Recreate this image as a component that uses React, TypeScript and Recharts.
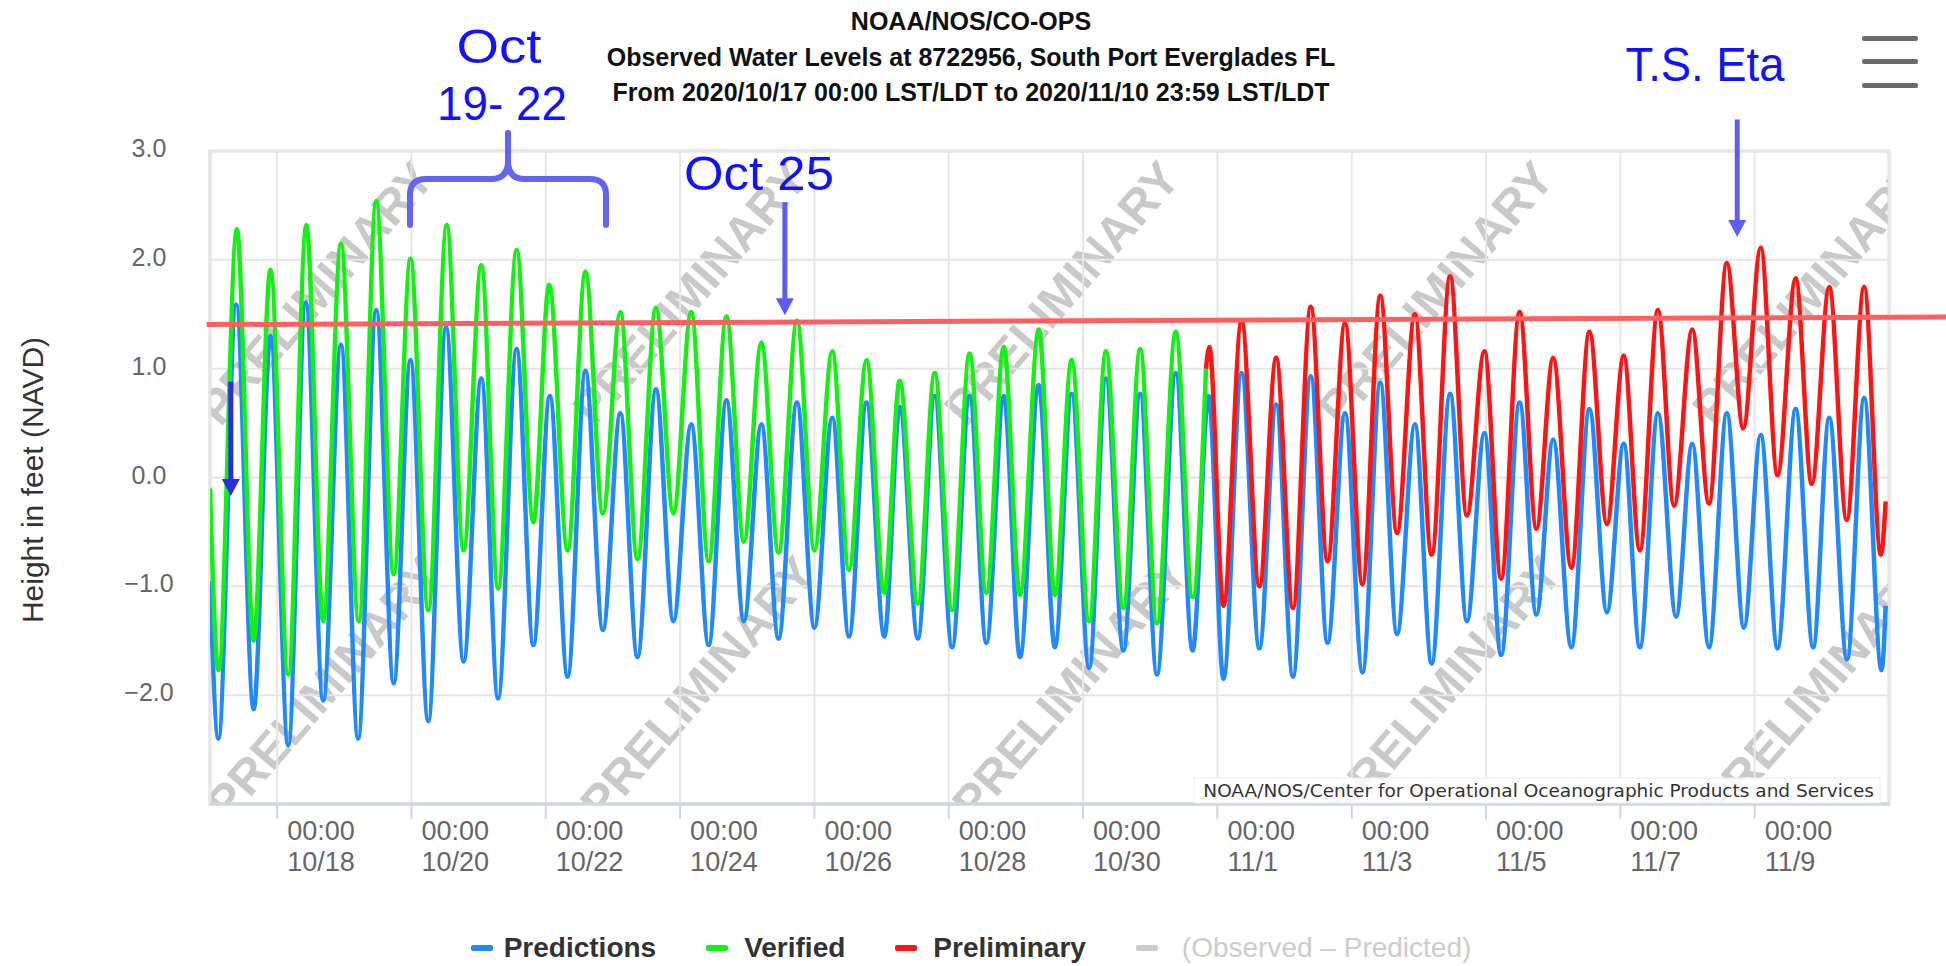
import React from "react";
import {
  LineChart,
  Line,
  XAxis,
  YAxis,
  CartesianGrid,
  ReferenceLine,
  ReferenceDot,
} from "recharts";

// x = days after 2020/10/17 00:00 LST/LDT, y = height in feet (NAVD)
// each list holds the start/end and the high/low turning points
const predictionDays = [
  0, 0.125, 0.39, 0.65, 0.9, 1.165, 1.425, 1.685, 1.95, 2.205, 2.475, 2.735, 2.985,
  3.25, 3.515, 3.775, 4.04, 4.29, 4.565, 4.815, 5.06, 5.325, 5.59, 5.85, 6.11, 6.365,
  6.64, 6.9, 7.165, 7.425, 7.69, 7.95, 8.21, 8.465, 8.74, 9.0, 9.265, 9.515, 9.775,
  10.04, 10.27, 10.54, 10.79, 11.05, 11.31, 11.56, 11.82, 12.06, 12.34, 12.58, 12.83,
  13.09, 13.34, 13.6, 13.85, 14.1, 14.38, 14.63, 14.87, 15.09, 15.36, 15.625, 15.875,
  16.125, 16.39, 16.64, 16.9, 17.16, 17.425, 17.675, 17.94, 18.19, 18.465, 18.715,
  18.975, 19.225, 19.5, 19.75, 20.0, 20.27, 20.54, 20.8, 21.05, 21.29, 21.56, 21.83,
  22.07, 22.32, 22.585, 22.84, 23.09, 23.34, 23.61, 23.87, 24.11, 24.375, 24.63,
  24.89, 24.95,
];
const predictionFeet = [
  -0.95, -2.4, 1.59, -2.13, 1.3, -2.46, 1.61, -2.05, 1.22, -2.4, 1.54, -1.89, 1.08,
  -2.24, 1.38, -1.69, 0.91, -2.03, 1.18, -1.54, 0.75, -1.83, 0.98, -1.4, 0.59, -1.65,
  0.81, -1.32, 0.49, -1.54, 0.71, -1.32, 0.49, -1.48, 0.69, -1.38, 0.55, -1.46, 0.69,
  -1.46, 0.65, -1.48, 0.75, -1.56, 0.75, -1.52, 0.75, -1.65, 0.85, -1.56, 0.77,
  -1.75, 0.91, -1.59, 0.77, -1.81, 0.96, -1.59, 0.75, -1.85, 0.96, -1.57, 0.67,
  -1.83, 0.93, -1.52, 0.59, -1.79, 0.87, -1.44, 0.49, -1.71, 0.77, -1.32,
  0.41, -1.63, 0.69, -1.26, 0.35, -1.56, 0.63, -1.24, 0.31, -1.56, 0.59, -1.28,
  0.31, -1.56, 0.59, -1.38, 0.39, -1.57, 0.63, -1.56, 0.55, -1.67, 0.73,
  -1.77, -1.18,
];

const verifiedDays = [
  0, 0.125, 0.4, 0.65, 0.9, 1.165, 1.435, 1.685, 1.95, 2.215, 2.475, 2.735, 2.985,
  3.25, 3.525, 3.775, 4.04, 4.29, 4.565, 4.815, 5.05, 5.325, 5.59, 5.85, 6.11, 6.365,
  6.64, 6.9, 7.165, 7.425, 7.69, 7.95, 8.21, 8.465, 8.74, 9.0, 9.265, 9.515, 9.775,
  10.04, 10.27, 10.54, 10.79, 11.05, 11.31, 11.56, 11.82, 12.06, 12.34, 12.58, 12.83,
  13.09, 13.34, 13.6, 13.85, 14.1, 14.38, 14.63, 14.83,
];
const verifiedFeet = [
  -0.1, -1.77, 2.28, -1.5, 1.91, -1.81, 2.32, -1.32, 2.15, -1.32, 2.54, -0.89, 2.01,
  -1.22, 2.32, -0.67, 1.95, -1.02, 2.09, -0.41, 1.77, -0.67, 1.89, -0.33, 1.52, -0.75,
  1.56, -0.33, 1.52, -0.77, 1.48, -0.59, 1.24, -0.69, 1.44, -0.67, 1.16, -0.85, 1.08,
  -1.06, 0.89, -1.16, 0.96, -1.22, 1.14, -1.06, 1.2, -1.08, 1.36, -1.08, 1.08,
  -1.32, 1.16, -1.2, 1.18, -1.34, 1.34, -1.1, 1.0,
];

const preliminaryDays = [
  14.83, 14.88, 15.09, 15.36, 15.625, 15.875, 16.125, 16.39, 16.64, 16.9, 17.16,
  17.425, 17.675, 17.94, 18.19, 18.465, 18.715, 18.975, 19.225, 19.5, 19.75, 20.0,
  20.27, 20.54, 20.8, 21.05, 21.29, 21.56, 21.8, 22.07, 22.32, 22.585, 22.83, 23.09,
  23.34, 23.61, 23.85, 24.11, 24.37, 24.63, 24.88, 24.95,
];
const preliminaryFeet = [
  1.0, 1.2, -1.18, 1.44, -1.0, 1.1, -1.2, 1.57, -0.77, 1.42, -0.98,
  1.67, -0.51, 1.5, -0.71, 1.85, -0.35, 1.16, -0.93, 1.52, -0.47, 1.1,
  -0.83, 1.34, -0.43, 1.12, -0.67, 1.54, -0.26, 1.36, -0.24, 1.97, 0.45, 2.11,
  0.02, 1.83, -0.06, 1.75, -0.39, 1.75, -0.71, -0.22,
];

const tickDays = [1, 3, 5, 7, 9, 11, 13, 15, 17, 19, 21, 23];
const tickDates = [
  "10/18", "10/20", "10/22", "10/24", "10/26", "10/28",
  "10/30", "11/1", "11/3", "11/5", "11/7", "11/9",
];
const heightTicks = [-3, -2, -1, 0, 1, 2, 3];

const titleLines = [
  "NOAA/NOS/CO-OPS",
  "Observed Water Levels at 8722956, South Port Everglades FL",
  "From 2020/10/17 00:00 LST/LDT to 2020/11/10 23:59 LST/LDT",
];

// hand-drawn notes laid over the chart
const floodLevel = [
  { x: -0.05, y: 1.405 },
  { x: 25.85, y: 1.475 },
];
const arrowDays = [0.31, 8.56, 22.74];
const arrowTops = [0.88, 2.53, 3.29];
const arrowTips = [-0.17, 1.49, 2.21];

const W = 1946;
const H = 966;
const PLOT_LEFT = 210;
const PLOT_TOP = 151;
const PLOT_RIGHT = 1889;
const PLOT_BOTTOM = 804;

const BLUE = "#2189f8";
const GREEN = "#14f014";
const RED = "#ff1414";
const NOTE = "#1212ff";
const ARROW = "#5d5df4";

const toPoints = (days: number[], feet: number[]) =>
  days.map((d, i) => ({ d, v: feet[i] }));

const predictions = toPoints(predictionDays, predictionFeet);
const verified = toPoints(verifiedDays, verifiedFeet);
const preliminary = toPoints(preliminaryDays, preliminaryFeet);

const fmt = (v: number) => (v < 0 ? "\u2212" : "") + Math.abs(v).toFixed(1);

function DateTick({ x, payload }: any) {
  const i = tickDays.indexOf(payload.value);
  return (
    <g>
      <text x={x + 10} y={PLOT_BOTTOM + 36} fontSize={27} fill="#666">
        00:00
      </text>
      <text x={x + 10} y={PLOT_BOTTOM + 67} fontSize={27} fill="#666">
        {tickDates[i]}
      </text>
    </g>
  );
}

function LeftTick({ y, payload }: any) {
  if (payload.value === -3) return <g />;
  return (
    <text x={149} y={y + 6} fontSize={25} fill="#666" textAnchor="middle">
      {fmt(payload.value)}
    </text>
  );
}

function RightTick({ y, payload }: any) {
  if (payload.value === -3) return <g />;
  return (
    <text x={1940} y={y + 6} fontSize={25} fill="#666" textAnchor="end">
      {fmt(payload.value)}
    </text>
  );
}

const arrowHead = (color: string) => (props: any) => {
  const { cx, cy } = props;
  return (
    <polygon
      points={`${cx - 9},${cy - 17} ${cx + 9},${cy - 17} ${cx},${cy}`}
      fill={color}
    />
  );
};

const wmCols = [316, 690, 1062, 1436, 1810];
const wmRows = [293, 688];

export default function App() {
  const legend = [
    { name: "Predictions", color: BLUE, text: "#333", weight: 700, gap: 11 },
    { name: "Verified", color: GREEN, text: "#333", weight: 700, gap: 16 },
    { name: "Preliminary", color: RED, text: "#333", weight: 700, gap: 16 },
    { name: "(Observed \u2013 Predicted)", color: "#cccccc", text: "#cccccc", weight: 400, gap: 24 },
  ];

  return (
    <div
      style={{
        position: "absolute",
        left: 0,
        top: 0,
        width: W,
        height: H,
        overflow: "hidden",
        background: "#fff",
        fontFamily: "'Liberation Sans', Arial, sans-serif",
      }}
    >
      {/* watermark + plot frame, under the chart */}
      <svg width={W} height={H} style={{ position: "absolute", left: 0, top: 0 }}>
        <defs>
          <clipPath id="plotClip">
            <rect
              x={PLOT_LEFT}
              y={PLOT_TOP}
              width={PLOT_RIGHT - PLOT_LEFT}
              height={PLOT_BOTTOM - PLOT_TOP}
            />
          </clipPath>
        </defs>
        <g clipPath="url(#plotClip)">
          {wmCols.map((cx, i) =>
            wmRows.map((cy, j) => (
              <text
                key={`wm-${i}-${j}`}
                x={cx + j * 8}
                y={cy}
                transform={`rotate(-49 ${cx + j * 8} ${cy})`}
                textAnchor="middle"
                dominantBaseline="central"
                fontSize={48}
                fontWeight={700}
                fill="#c9c9c9"
              >
                PRELIMINARY
              </text>
            ))
          )}
        </g>
        <rect
          x={PLOT_LEFT}
          y={PLOT_TOP}
          width={PLOT_RIGHT - PLOT_LEFT}
          height={PLOT_BOTTOM - PLOT_TOP}
          fill="none"
          stroke="#d6d6d6"
          strokeWidth={3}
        />
      </svg>

      <div style={{ position: "absolute", left: 0, top: 0 }}>
        <LineChart
          width={W}
          height={H}
          margin={{ top: PLOT_TOP, right: 0, bottom: 102, left: 150 }}
        >
          <CartesianGrid stroke="#e6e6e6" strokeWidth={2} />
          <XAxis
            dataKey="d"
            type="number"
            domain={[0, 25]}
            ticks={tickDays}
            allowDataOverflow
            height={60}
            tickSize={15}
            tickMargin={0}
            tickLine={{ stroke: "#ccd6eb", strokeWidth: 2 }}
            axisLine={{ stroke: "#ccd6eb", strokeWidth: 3 }}
            tick={<DateTick />}
            interval={0}
          />
          <YAxis
            type="number"
            domain={[-3, 3]}
            ticks={heightTicks}
            width={60}
            axisLine={false}
            tickLine={false}
            tickSize={0}
            tickMargin={0}
            tick={<LeftTick />}
            interval={0}
          />
          <YAxis
            yAxisId="right"
            orientation="right"
            type="number"
            domain={[-3, 3]}
            ticks={heightTicks}
            width={57}
            axisLine={false}
            tickLine={false}
            tickSize={0}
            tickMargin={0}
            tick={<RightTick />}
            interval={0}
          />
          <Line
            data={predictions}
            dataKey="v"
            name="Predictions"
            type="monotone"
            stroke={BLUE}
            strokeWidth={4.5}
            dot={false}
            isAnimationActive={false}
          />
          <Line
            data={verified}
            dataKey="v"
            name="Verified"
            type="monotone"
            stroke={GREEN}
            strokeWidth={4.5}
            dot={false}
            isAnimationActive={false}
          />
          <Line
            data={preliminary}
            dataKey="v"
            name="Preliminary"
            type="monotone"
            stroke={RED}
            strokeWidth={4.5}
            dot={false}
            isAnimationActive={false}
          />
          <ReferenceLine
            segment={floodLevel}
            stroke="#ff5f5f"
            strokeWidth={5}
            ifOverflow="visible"
          />
          {arrowDays.map((day, i) => (
            <ReferenceLine
              key={`arrow-${i}`}
              segment={[
                { x: day, y: arrowTops[i] },
                { x: day, y: arrowTips[i] + 0.1 },
              ]}
              stroke={i === 0 ? "#2c2ce6" : ARROW}
              strokeWidth={5}
              ifOverflow="visible"
            />
          ))}
          {arrowDays.map((day, i) => (
            <ReferenceDot
              key={`head-${i}`}
              x={day}
              y={arrowTips[i]}
              r={9}
              ifOverflow="visible"
              shape={arrowHead(i === 0 ? "#2c2ce6" : ARROW)}
            />
          ))}
        </LineChart>
      </div>

      {/* notes, axis title and credits above the chart */}
      <svg
        width={W}
        height={H}
        style={{ position: "absolute", left: 0, top: 0, pointerEvents: "none" }}
      >
        <text
          x={32}
          y={480}
          transform="rotate(-90 32 480)"
          textAnchor="middle"
          dominantBaseline="central"
          fontSize={30}
          fill="#333"
        >
          Height in feet (NAVD)
        </text>
        <rect
          x={1194}
          y={778}
          width={686}
          height={25}
          fill="#fff"
          fillOpacity={0.85}
          stroke="#ececec"
        />
        <text
          x={1874}
          y={797}
          textAnchor="end"
          fontFamily="'DejaVu Sans', Verdana, sans-serif"
          fontSize={18.5}
          fill="#333"
        >
          NOAA/NOS/Center for Operational Oceanographic Products and Services
        </text>
        <path
          d="M410,225 L410,195 Q410,179 426,179 L492,179 Q506,179 508,164 L508,133 M508,164 Q510,179 524,179 L590,179 Q606,179 606,195 L606,225"
          fill="none"
          stroke="#6464f2"
          strokeWidth={6}
          strokeLinecap="round"
          strokeLinejoin="round"
        />
        <text x={499} y={63} textAnchor="middle" fontSize={48} fill={NOTE} textLength={85} lengthAdjust="spacingAndGlyphs">
          Oct
        </text>
        <text x={502} y={120} textAnchor="middle" fontSize={48} fill={NOTE} textLength={130} lengthAdjust="spacingAndGlyphs">
          19- 22
        </text>
        <text x={759} y={190} textAnchor="middle" fontSize={48} fill={NOTE} textLength={150} lengthAdjust="spacingAndGlyphs">
          Oct 25
        </text>
        <text x={1705} y={81} textAnchor="middle" fontSize={48} fill={NOTE} textLength={159} lengthAdjust="spacingAndGlyphs">
          T.S. Eta
        </text>
      </svg>

      {titleLines.map((line, i) => (
        <div
          key={line}
          style={{
            position: "absolute",
            left: 0,
            width: 1942,
            top: [6, 42, 77][i],
            height: 30,
            lineHeight: "30px",
            textAlign: "center",
            fontSize: 25,
            fontWeight: 700,
            color: "#111",
          }}
        >
          {line}
        </div>
      ))}

      {[36, 59, 83].map((top) => (
        <div
          key={top}
          style={{
            position: "absolute",
            left: 1862,
            top,
            width: 56,
            height: 5,
            borderRadius: 2,
            background: "#6b6b6b",
          }}
        />
      ))}

      <div
        style={{
          position: "absolute",
          left: 0,
          top: 928,
          width: 1942,
          height: 40,
          display: "flex",
          justifyContent: "center",
          alignItems: "center",
          gap: 50,
        }}
      >
        {legend.map((item) => (
          <div key={item.name} style={{ display: "flex", alignItems: "center", gap: item.gap }}>
            <span
              style={{
                display: "inline-block",
                width: 22,
                height: 6,
                borderRadius: 2,
                background: item.color,
              }}
            />
            <span style={{ fontSize: 28, fontWeight: item.weight, color: item.text }}>
              {item.name}
            </span>
          </div>
        ))}
      </div>
    </div>
  );
}
